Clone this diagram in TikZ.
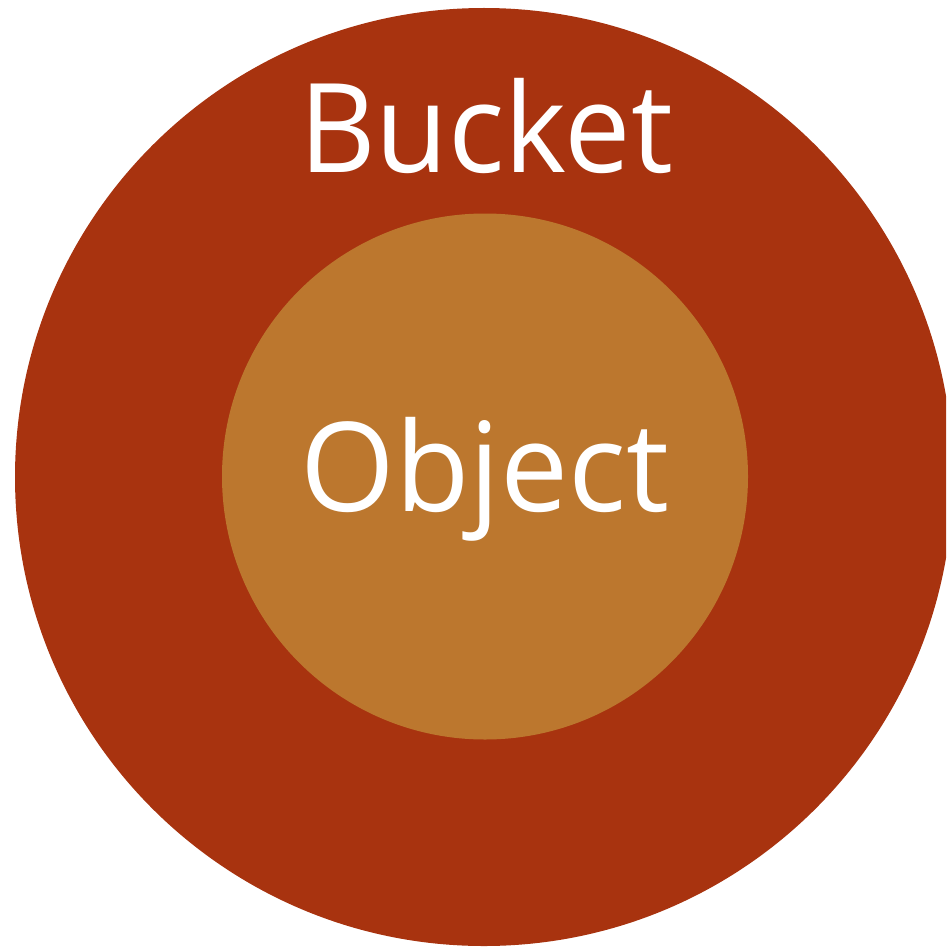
\documentclass[tikz,border=0pt]{standalone}
\usepackage{fontspec}
\setmainfont{Open Sans}
\definecolor{bucketred}{RGB}{168,51,15}
\definecolor{objectorange}{RGB}{188,119,46}
\newcommand{\narrowtext}[2]{\scalebox{#1}[1]{#2}}
\begin{document}
\begin{tikzpicture}[x=1pt,y=-1pt,
  lbl/.style={text=white,font=\fontsize{124}{124}\selectfont,anchor=base,inner sep=0pt}]
\useasboundingbox (0,0) rectangle (946,947);
\clip (0,0) rectangle (946,947);
\fill[bucketred] (484,477) circle[radius=469];
\fill[objectorange] (485,476.5) circle[radius=263];
\node[lbl] (bucket) at (486,172) {\narrowtext{0.955}{Bucket}};
\node[lbl] (object) at (485,511) {\narrowtext{0.98}{Object}};
\end{tikzpicture}
\end{document}
